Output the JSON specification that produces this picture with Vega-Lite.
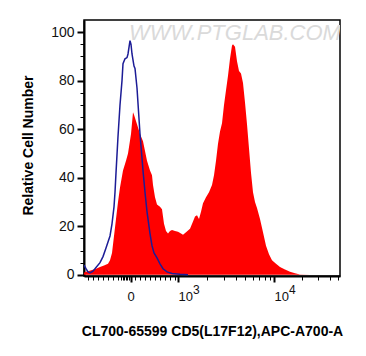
{
  "$schema": "https://vega.github.io/schema/vega-lite/v6.json",
  "width": 256,
  "height": 256,
  "autosize": "none",
  "padding": {"left": 84, "top": 20, "right": 26, "bottom": 80},
  "background": "white",
  "config": {
    "view": {"stroke": "black", "strokeWidth": 1.5},
    "axis": {"grid": false, "labelFont": "Liberation Sans", "titleFont": "Liberation Sans", "domainColor": "black", "tickColor": "black", "labelColor": "#111", "titleColor": "black"}
  },
  "datasets": {
    "sample": [
      {"channel": 0, "count": 0.8}, {"channel": 1, "count": 1.2}, {"channel": 4, "count": 1.5}, {"channel": 8, "count": 2},
      {"channel": 12, "count": 2.5}, {"channel": 16, "count": 3.2}, {"channel": 20, "count": 3.8}, {"channel": 24, "count": 4.5},
      {"channel": 26, "count": 6}, {"channel": 28, "count": 9}, {"channel": 30, "count": 16}, {"channel": 32, "count": 23},
      {"channel": 34, "count": 30}, {"channel": 36, "count": 36}, {"channel": 39, "count": 43}, {"channel": 42, "count": 47},
      {"channel": 44, "count": 50}, {"channel": 47, "count": 58}, {"channel": 49, "count": 67}, {"channel": 50, "count": 66},
      {"channel": 53, "count": 62}, {"channel": 56, "count": 58}, {"channel": 59, "count": 55}, {"channel": 61, "count": 51},
      {"channel": 63, "count": 47}, {"channel": 66, "count": 43}, {"channel": 68, "count": 41}, {"channel": 69, "count": 37},
      {"channel": 71, "count": 32}, {"channel": 73, "count": 29}, {"channel": 76, "count": 28}, {"channel": 78, "count": 27},
      {"channel": 80, "count": 21}, {"channel": 82, "count": 18}, {"channel": 84, "count": 17}, {"channel": 86, "count": 18},
      {"channel": 88, "count": 18.5}, {"channel": 91, "count": 18}, {"channel": 94, "count": 17.7}, {"channel": 97, "count": 17},
      {"channel": 99, "count": 16.5}, {"channel": 102, "count": 17.5}, {"channel": 106, "count": 19}, {"channel": 109, "count": 22},
      {"channel": 111, "count": 24}, {"channel": 113, "count": 24.5}, {"channel": 115, "count": 23}, {"channel": 117, "count": 26},
      {"channel": 119, "count": 29.5}, {"channel": 122, "count": 32}, {"channel": 125, "count": 34}, {"channel": 128, "count": 37},
      {"channel": 130, "count": 41}, {"channel": 132, "count": 47}, {"channel": 134, "count": 54}, {"channel": 136, "count": 59},
      {"channel": 138, "count": 62.5}, {"channel": 140, "count": 70}, {"channel": 142, "count": 76}, {"channel": 144, "count": 82},
      {"channel": 146, "count": 89}, {"channel": 148, "count": 94.5}, {"channel": 149, "count": 95}, {"channel": 151, "count": 94},
      {"channel": 153, "count": 88}, {"channel": 155, "count": 84}, {"channel": 157, "count": 83}, {"channel": 159, "count": 79},
      {"channel": 161, "count": 71}, {"channel": 163, "count": 62}, {"channel": 165, "count": 52}, {"channel": 167, "count": 42},
      {"channel": 169, "count": 34}, {"channel": 171, "count": 30}, {"channel": 173, "count": 27.5}, {"channel": 176, "count": 23},
      {"channel": 179, "count": 17.5}, {"channel": 182, "count": 12}, {"channel": 185, "count": 8.5}, {"channel": 188, "count": 6},
      {"channel": 192, "count": 4.5}, {"channel": 196, "count": 3.2}, {"channel": 201, "count": 2.2}, {"channel": 206, "count": 1.3},
      {"channel": 211, "count": 0.6}, {"channel": 216, "count": 0.1}, {"channel": 226, "count": 0}, {"channel": 256, "count": 0}
    ],
    "control": [
      {"channel": 0, "count": 4}, {"channel": 2, "count": 2.5}, {"channel": 4, "count": 1.2}, {"channel": 6, "count": 0.8},
      {"channel": 9, "count": 1.5}, {"channel": 12, "count": 3}, {"channel": 16, "count": 5}, {"channel": 19, "count": 7.5},
      {"channel": 22, "count": 11}, {"channel": 24, "count": 13.5}, {"channel": 26, "count": 16}, {"channel": 28, "count": 21},
      {"channel": 30, "count": 28}, {"channel": 31, "count": 34}, {"channel": 32, "count": 42}, {"channel": 34, "count": 57},
      {"channel": 36, "count": 70}, {"channel": 38, "count": 80}, {"channel": 39, "count": 87}, {"channel": 41, "count": 89},
      {"channel": 43, "count": 89.5}, {"channel": 44, "count": 91}, {"channel": 46, "count": 96.5}, {"channel": 47, "count": 95},
      {"channel": 48, "count": 91}, {"channel": 50, "count": 86}, {"channel": 51, "count": 85}, {"channel": 53, "count": 77},
      {"channel": 56, "count": 58}, {"channel": 59, "count": 43}, {"channel": 61, "count": 34}, {"channel": 63, "count": 26},
      {"channel": 66, "count": 17}, {"channel": 68, "count": 12}, {"channel": 70, "count": 9}, {"channel": 73, "count": 7},
      {"channel": 76, "count": 4.5}, {"channel": 79, "count": 2.5}, {"channel": 83, "count": 1.2}, {"channel": 88, "count": 0.5},
      {"channel": 96, "count": 0.2}, {"channel": 104, "count": 0}
    ],
    "watermark": [{"label": "WWW.PTGLAB.COM"}]
  },
  "layer": [
    {
      "data": {"name": "sample"},
      "mark": {"type": "area", "color": "#ff0000", "clip": true},
      "encoding": {
        "x": {
          "field": "channel", "type": "quantitative",
          "scale": {"domain": [0, 256], "nice": false, "zero": false},
          "axis": {
            "orient": "bottom", "values": [46.5, 94, 190],
            "labelExpr": "datum.value < 50 ? '0' : '10'",
            "labelAlign": {"condition": {"test": "datum.value < 50", "value": "center"}, "value": "left"},
            "labelFontSize": 13, "labelPadding": 8, "tickSize": 6, "tickWidth": 2, "domainWidth": 2,
            "title": "CL700-65599 CD5(L17F12),APC-A700-A", "titleFontSize": 14, "titleFontWeight": "bold",
            "titleBaseline": "alphabetic", "titleY": 59
          }
        },
        "y": {
          "field": "count", "type": "quantitative",
          "scale": {"domain": [-0.5, 105], "nice": false, "zero": false},
          "axis": {
            "orient": "left", "values": [0, 20, 40, 60, 80, 100],
            "labelFontSize": 14, "labelPadding": 3, "tickSize": 7, "tickWidth": 2, "domainWidth": 2,
            "title": "Relative Cell Number", "titleFontSize": 14, "titleFontWeight": "bold",
            "titleBaseline": "alphabetic", "titleX": -52, "titleY": 125
          }
        },
        "y2": {"datum": 0}
      }
    },
    {
      "data": {"name": "control"},
      "mark": {"type": "line", "color": "#1c1c96", "strokeWidth": 1.5, "clip": true},
      "encoding": {
        "x": {
          "field": "channel", "type": "quantitative",
          "axis": {
            "orient": "bottom",
            "values": [4, 9, 14, 19, 24, 29, 34, 37, 38.5, 40, 41.5, 43, 44.5, 51, 56, 61, 66, 71, 76, 81, 86, 91, 123, 140, 152, 161, 169, 175, 181, 186, 218, 234, 246, 254],
            "labels": false, "domain": false, "tickSize": 4, "tickWidth": 1, "title": null
          }
        },
        "y": {
          "field": "count", "type": "quantitative",
          "axis": {
            "orient": "left",
            "values": [5, 10, 15, 25, 30, 35, 45, 50, 55, 65, 70, 75, 85, 90, 95],
            "labels": false, "domain": false, "tickSize": 4, "tickWidth": 1, "title": null
          }
        }
      }
    },
    {
      "data": {"name": "watermark"},
      "mark": {"type": "text", "font": "Liberation Sans", "fontSize": 22, "fontStyle": "italic", "color": "#dadada", "align": "center", "baseline": "middle", "clip": true},
      "encoding": {
        "x": {
          "datum": 151,
          "axis": {
            "orient": "bottom", "values": [94, 190],
            "labelExpr": "datum.value < 100 ? '3' : '4'",
            "labelAlign": "left", "labelOffset": 14.5, "labelFontSize": 12,
            "ticks": false, "tickSize": 0, "domain": false, "labelPadding": 8, "title": null
          }
        },
        "y": {"datum": 99.5, "axis": null},
        "text": {"field": "label"}
      }
    }
  ],
  "resolve": {"axis": {"x": "independent", "y": "independent"}}
}
